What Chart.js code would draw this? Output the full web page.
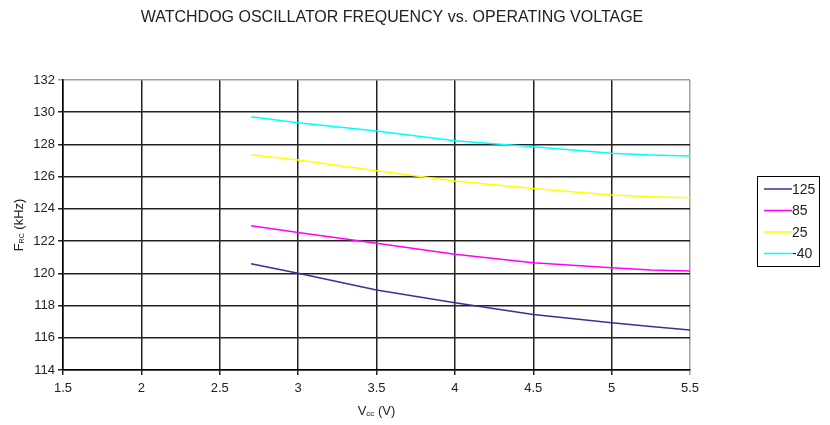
<!DOCTYPE html>
<html>
<head>
<meta charset="utf-8">
<script src="https://cdn.jsdelivr.net/npm/chart.js@4/dist/chart.umd.min.js"></script>
<style>
  html, body { margin: 0; padding: 0; background: #fff; }
  canvas { display: block; }
</style>
</head>
<body>
<canvas id="myChart" width="830" height="425"></canvas>
<script>
// supply voltage (V) at which the curves were read
const vcc = [2.7, 3.0, 3.5, 4.0, 4.5, 5.0, 5.25, 5.5];

// frequency (kHz) per temperature
const f125 = [120.6, 120.0, 118.96, 118.17, 117.45, 116.93, 116.7, 116.48];
const f85 = [122.95, 122.54, 121.86, 121.19, 120.65, 120.34, 120.2, 120.14];
const f25 = [127.36, 127.03, 126.37, 125.73, 125.27, 124.86, 124.75, 124.69];
const fMinus40 = [129.72, 129.35, 128.83, 128.23, 127.86, 127.45, 127.35, 127.28];

const seriesLabels = ['125', '85', '25', '-40'];
const seriesColors = ['#333399', '#ff00ff', '#ffff00', '#00ffff'];

const xTicks = [1.5, 2, 2.5, 3, 3.5, 4, 4.5, 5, 5.5];
const yTicks = [114, 116, 118, 120, 122, 124, 126, 128, 130, 132];

const chartTitle = 'WATCHDOG OSCILLATOR FREQUENCY vs. OPERATING VOLTAGE';

const FONT = '"Liberation Sans", Arial, sans-serif';

const toPoints = (ys) => ys.map((y, i) => ({ x: vcc[i], y }));

// title, axis titles with subscripts, boxed legend
const decorations = {
  id: 'decorations',
  afterDraw(chart) {
    const ctx = chart.ctx;
    const area = chart.chartArea;
    ctx.save();
    ctx.fillStyle = '#222';
    ctx.textBaseline = 'middle';

    ctx.font = '16px ' + FONT;
    ctx.textAlign = 'center';
    ctx.fillText(chartTitle, 392, 18);

    const drawSub = (parts, x, y) => {
      let w = 0;
      parts.forEach(p => { ctx.font = p.size + 'px ' + FONT; w += ctx.measureText(p.t).width; });
      let cx = x - w / 2;
      ctx.textAlign = 'left';
      parts.forEach(p => {
        ctx.font = p.size + 'px ' + FONT;
        ctx.fillText(p.t, cx, y + (p.sub ? 3 : 0));
        cx += ctx.measureText(p.t).width;
      });
    };
    // x title: V_CC (V)
    drawSub([{ t: 'V', size: 13 }, { t: 'cc', size: 8, sub: true }, { t: ' (V)', size: 13 }],
      (area.left + area.right) / 2, 411);

    ctx.save();
    ctx.translate(19, (area.top + area.bottom) / 2);
    ctx.rotate(-Math.PI / 2);
    drawSub([{ t: 'F', size: 13 }, { t: 'RC', size: 7, sub: true }, { t: ' (kHz)', size: 13 }], 0, 0);
    ctx.restore();

    // legend
    const lx = 757, ly = 176, lw = 62, lh = 90;
    ctx.strokeStyle = '#000';
    ctx.lineWidth = 1;
    ctx.strokeRect(lx + 0.5, ly + 0.5, lw, lh);
    ctx.font = '14px ' + FONT;
    ctx.textAlign = 'left';
    chart.data.datasets.forEach((ds, i) => {
      const y = ly + 13 + i * 21.5;
      ctx.strokeStyle = ds.borderColor;
      ctx.lineWidth = 1.5;
      ctx.beginPath();
      ctx.moveTo(lx + 7, y);
      ctx.lineTo(lx + 35, y);
      ctx.stroke();
      ctx.fillStyle = '#222';
      ctx.fillText(ds.label, lx + 35, y + 1);
    });
    ctx.restore();
  }
};

const datasets = [f125, f85, f25, fMinus40].map((ys, i) => ({
  label: seriesLabels[i],
  data: toPoints(ys),
  borderColor: seriesColors[i],
  backgroundColor: seriesColors[i],
  borderWidth: 1.5,
  pointRadius: 0,
  tension: 0,
  fill: false
}));

const gridColor = (edgeIndex) => (c) => (c.index === edgeIndex ? '#a0a0a0' : '#222');

new Chart(document.getElementById('myChart').getContext('2d'), {
  type: 'line',
  data: { datasets },
  options: {
    responsive: false,
    animation: false,
    layout: { padding: { top: 80, right: 140, bottom: 30, left: 0 } },
    plugins: {
      legend: { display: false },
      tooltip: { enabled: false }
    },
    scales: {
      x: {
        type: 'linear',
        min: xTicks[0],
        max: xTicks[xTicks.length - 1],
        afterBuildTicks: (s) => { s.ticks = xTicks.map(v => ({ value: v })); },
        afterFit: (s) => { s.height = 25; },
        grid: { color: gridColor(xTicks.length - 1), lineWidth: 1.5, tickLength: 5 },
        border: { color: '#000', width: 1.5 },
        ticks: {
          color: '#222', font: { family: FONT, size: 13 }, padding: 6, maxRotation: 0,
          callback: (v) => String(v)
        }
      },
      y: {
        type: 'linear',
        min: yTicks[0],
        max: yTicks[yTicks.length - 1],
        afterBuildTicks: (s) => { s.ticks = yTicks.map(v => ({ value: v })); },
        afterFit: (s) => { s.width = 63; },
        grid: { color: gridColor(yTicks.length - 1), lineWidth: 1.5, tickLength: 5 },
        border: { color: '#000', width: 1.5 },
        ticks: { color: '#222', font: { family: FONT, size: 13 }, padding: 3 }
      }
    }
  },
  plugins: [decorations]
});
</script>
</body>
</html>
